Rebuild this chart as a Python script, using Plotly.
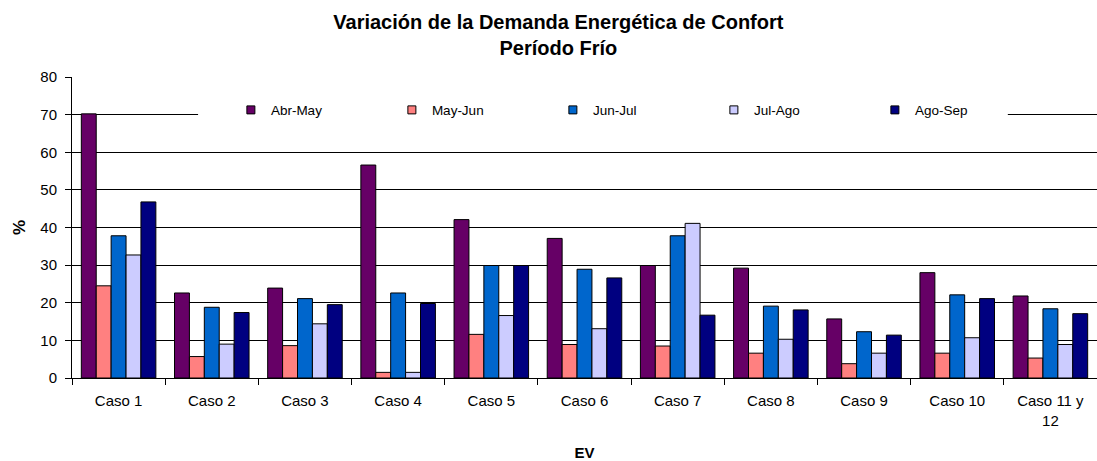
import plotly.graph_objects as go

categories = ["Caso 1", "Caso 2", "Caso 3", "Caso 4", "Caso 5", "Caso 6",
              "Caso 7", "Caso 8", "Caso 9", "Caso 10", "Caso 11 y 12"]
tick_labels = ["Caso 1", "Caso 2", "Caso 3", "Caso 4", "Caso 5", "Caso 6",
               "Caso 7", "Caso 8", "Caso 9", "Caso 10", "Caso 11 y<br>12"]

abr_may = [70.2, 22.6, 23.9, 56.6, 42.1, 37.1, 29.9, 29.2, 15.7, 28.0, 21.8]
may_jun = [24.5, 5.7, 8.6, 1.5, 11.6, 8.9, 8.5, 6.6, 3.8, 6.6, 5.3]
jun_jul = [37.8, 18.8, 21.1, 22.6, 29.9, 28.9, 37.8, 19.1, 12.3, 22.1, 18.4]
jul_ago = [32.7, 9.0, 14.4, 1.5, 16.6, 13.1, 41.1, 10.3, 6.6, 10.7, 8.9]
ago_sep = [46.8, 17.4, 19.5, 19.8, 29.9, 26.6, 16.7, 18.1, 11.4, 21.1, 17.1]

series_names = ["Abr-May", "May-Jun", "Jun-Jul", "Jul-Ago", "Ago-Sep"]
series_values = [abr_may, may_jun, jun_jul, jul_ago, ago_sep]
colors = ["#660066", "#FF8080", "#0066CC", "#CCCCFF", "#000080"]

fig = go.Figure()
for name, vals, col in zip(series_names, series_values, colors):
    fig.add_trace(go.Bar(
        x=categories, y=vals, name=name, showlegend=False, legendgroup=name,
        marker=dict(color=col, line=dict(color="#000000", width=1)),
    ))
# legend-only entries with small square swatches
for name, col in zip(series_names, colors):
    fig.add_trace(go.Scatter(
        x=[None], y=[None], mode="markers", name=name, legendgroup=name,
        marker=dict(symbol="square", size=8, color=col,
                    line=dict(color="#000000", width=1)),
        hoverinfo="skip",
    ))

font_family = "Liberation Sans, Arial, sans-serif"

# white legend background box (hides the gridline behind the legend)
fig.add_shape(type="rect", xref="paper", yref="paper",
              x0=0.123, x1=0.913, y0=0.84, y1=0.935,
              fillcolor="white", line=dict(width=0), layer="above")

fig.update_layout(
    width=1097, height=461,
    barmode="group", bargap=0.2, bargroupgap=0,
    paper_bgcolor="white", plot_bgcolor="white",
    margin=dict(l=72, r=0, t=77, b=83),
    font=dict(family=font_family, size=15, color="#000000"),
    title=dict(
        text="<b>Variación de la Demanda Energética de Confort<br>Período Frío</b>",
        x=0.509, xref="container", xanchor="center",
        y=1 - 29 / 461, yref="container", yanchor="middle",
        font=dict(family=font_family, size=20, color="#000000"),
    ),
    legend=dict(
        orientation="h", x=0.155, xanchor="left", y=0.89, yanchor="middle",
        bgcolor="rgba(0,0,0,0)", borderwidth=0,
        entrywidth=116, entrywidthmode="pixels",
        font=dict(family=font_family, size=13.5, color="#000000"),
    ),
    xaxis=dict(
        tickmode="array", tickvals=categories, ticktext=tick_labels,
        tickson="boundaries", ticks="outside", ticklen=6, tickcolor="#000000",
        showline=True, linecolor="#000000", linewidth=1,
        ticklabelstandoff=9,
        tickfont=dict(size=15),
        title=dict(text="<b>EV</b>", standoff=20,
                   font=dict(family=font_family, size=15, color="#000000")),
    ),
    yaxis=dict(
        range=[0, 80], dtick=10, ticks="outside", ticklen=6, tickcolor="#000000",
        showline=True, linecolor="#000000", linewidth=1,
        showgrid=True, gridcolor="#000000", gridwidth=1,
        zeroline=False, ticklabelstandoff=5,
        tickfont=dict(size=15),
        title=dict(text="<b>%</b>", standoff=10,
                   font=dict(family=font_family, size=17, color="#000000")),
    ),
)

fig.write_html("out.html", config={"displayModeBar": False},
               post_script="document.body.style.margin='0';")
